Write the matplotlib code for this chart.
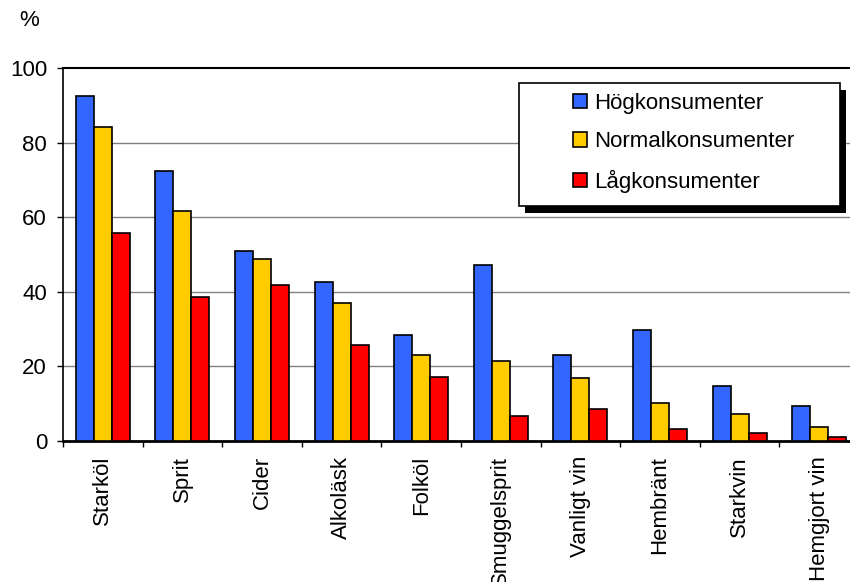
import matplotlib.pyplot as plt
import numpy as np
from matplotlib.patches import Rectangle

plt.rcParams['font.family'] = ['Liberation Sans', 'DejaVu Sans']

# Data (percent)
categories = ['Starköl', 'Sprit', 'Cider', 'Alkoläsk', 'Folköl', 'Smuggelsprit',
              'Vanligt vin', 'Hembränt', 'Starkvin', 'Hemgjort vin']
hog = [92.5, 72.5, 51.0, 42.5, 28.4, 47.3, 23.1, 29.7, 14.6, 9.2]
normal = [84.3, 61.8, 48.9, 37.1, 23.1, 21.5, 16.8, 10.2, 7.1, 3.7]
lag = [55.9, 38.7, 41.9, 25.8, 17.2, 6.5, 8.5, 3.2, 2.2, 1.0]
series_names = ['Högkonsumenter', 'Normalkonsumenter', 'Lågkonsumenter']
colors = ['#3366FF', '#FFCC00', '#FF0000']

FS = 16
W, H = 850, 582
fig = plt.figure(figsize=(W / 100, H / 100), dpi=100)
ax = fig.add_axes([63 / W, 1 - 440.7 / H, 796 / W, 372.4 / H])

x = np.arange(len(categories))
bw = 0.226
for i, (vals, c, name) in enumerate(zip([hog, normal, lag], colors, series_names)):
    ax.bar(x + (i - 1) * bw, vals, bw, color=c, edgecolor='black', linewidth=1.2,
           label=name, zorder=3)

ax.set_xlim(-0.5, len(categories) - 0.5)
ax.set_ylim(0, 100)
ax.set_yticks([0, 20, 40, 60, 80, 100])
ax.set_xticks(x)
ax.set_xticklabels(categories, rotation=90, fontsize=FS)
ax.tick_params(axis='x', length=0, pad=11)
ax.set_xticks(np.arange(len(categories) + 1) - 0.5, minor=True)
ax.tick_params(axis='x', which='minor', length=4.5, width=1, direction='out')
ax.tick_params(axis='y', labelsize=FS, length=4.5, width=1, pad=7, direction='out')

for v in [20, 40, 60, 80]:
    ax.axhline(v, color='#808080', linewidth=1, zorder=1)

ax.spines['right'].set_visible(False)
ax.spines['top'].set_linewidth(1.5)
ax.spines['left'].set_linewidth(1.2)
ax.spines['bottom'].set_linewidth(2)

fig.text(29 / W, 1 - 21 / H, '%', fontsize=FS, ha='center', va='center')

# legend box with solid shadow
bx0, by0, bx1, by1 = 519, 83, 840, 206
fig.patches.append(Rectangle(((bx0 + 6) / W, 1 - (by1 + 7) / H), (bx1 - bx0) / W,
                             (by1 - by0) / H, transform=fig.transFigure,
                             facecolor='black', edgecolor='none', zorder=5))
fig.patches.append(Rectangle((bx0 / W, 1 - by1 / H), (bx1 - bx0) / W, (by1 - by0) / H,
                             transform=fig.transFigure, facecolor='white',
                             edgecolor='black', linewidth=1.2, zorder=6))
leg = fig.legend(loc='upper left', bbox_to_anchor=(573 / W, 1 - 93 / H), frameon=False,
                 fontsize=FS, handlelength=0.63, handleheight=0.63, handletextpad=0.3,
                 labelspacing=0.78, borderpad=0, borderaxespad=0)
leg.set_zorder(7)

fig.savefig('out.png', dpi=100)
